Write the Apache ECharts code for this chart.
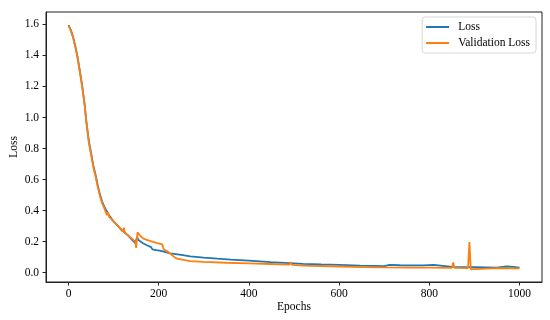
<!DOCTYPE html>
<html>
<head>
<meta charset="utf-8">
<script src="https://cdn.jsdelivr.net/npm/echarts@6/dist/echarts.min.js"></script>
<style>
  html, body { margin: 0; padding: 0; background: #fff; }
  #loss-chart { width: 550px; height: 320px; }
</style>
</head>
<body>
<div id="loss-chart"></div>
<script>
// training loss
var lossEpochs = [0, 5, 10, 15, 20, 25, 30, 35, 40, 45, 50, 55, 60, 65, 70, 75, 80, 90, 100, 110,
  120, 130, 140, 148, 150, 152, 155, 165, 175, 183, 186, 195, 205, 225, 250, 270, 300, 330, 360, 400,
  448, 490, 520, 560, 600, 647, 700, 712, 715, 735, 738, 760, 763, 786, 789, 810, 813, 850, 900, 950,
  971, 974, 987, 990, 1000];
var lossValues = [1.595, 1.565, 1.52, 1.46, 1.39, 1.30, 1.21, 1.10, 0.96, 0.85, 0.77, 0.69, 0.63, 0.56, 0.50, 0.455, 0.42, 0.37, 0.33, 0.30,
  0.27, 0.245, 0.215, 0.19, 0.18, 0.23, 0.21, 0.19, 0.175, 0.165, 0.15, 0.145, 0.14, 0.125, 0.115, 0.105, 0.097, 0.09, 0.084, 0.078,
  0.068, 0.062, 0.057, 0.053, 0.05, 0.046, 0.042, 0.05, 0.042, 0.048, 0.041, 0.047, 0.04, 0.047, 0.039, 0.05, 0.038, 0.037, 0.035, 0.033,
  0.04, 0.033, 0.038, 0.032, 0.032];

// validation loss
var valEpochs = [0, 5, 10, 15, 20, 25, 30, 33, 35, 40, 45, 50, 55, 60, 65, 70, 75, 80, 85, 87,
  90, 95, 100, 110, 120, 123, 125, 130, 141, 148, 150, 153, 160, 167, 182, 195, 208, 211, 218, 226,
  235, 241, 255, 270, 300, 350, 400, 448, 490, 492, 496, 520, 560, 600, 650, 700, 750, 800, 850, 853,
  856, 886, 889, 892, 895, 950, 1000];
var valValues = [1.59, 1.56, 1.515, 1.455, 1.385, 1.295, 1.2, 1.14, 1.1, 0.96, 0.84, 0.76, 0.68, 0.62, 0.55, 0.49, 0.445, 0.41, 0.37, 0.39,
  0.36, 0.345, 0.33, 0.3, 0.265, 0.29, 0.255, 0.245, 0.218, 0.2, 0.16, 0.26, 0.235, 0.218, 0.203, 0.192, 0.182, 0.15, 0.14, 0.122,
  0.1, 0.09, 0.082, 0.075, 0.07, 0.064, 0.06, 0.056, 0.052, 0.068, 0.05, 0.046, 0.043, 0.04, 0.036, 0.034, 0.033, 0.032, 0.031, 0.066,
  0.031, 0.03, 0.197, 0.022, 0.03, 0.029, 0.028];

var xTicks = [0, 200, 400, 600, 800, 1000];
var yTicks = [0, 0.2, 0.4, 0.6, 0.8, 1.0, 1.2, 1.4, 1.6];

function pairs(xs, ys) {
  return xs.map(function (x, i) { return [x, ys[i]]; });
}

var font = "'Liberation Serif', 'DejaVu Serif', serif";

var option = {
  animation: false,
  textStyle: { fontFamily: font },
  grid: {
    left: 46,
    top: 12,
    right: 8,
    bottom: 38,
    containLabel: false,
    outerBoundsMode: "none",
    show: true,
    borderColor: "#222",
    borderWidth: 1
  },
  legend: {
    right: 14,
    top: 17,
    orient: "vertical",
    backgroundColor: "#fff",
    borderColor: "#d6d6d6",
    borderWidth: 1,
    borderRadius: 3,
    padding: [4, 6, 4, 4],
    icon: "rect",
    itemWidth: 23,
    itemHeight: 2,
    itemGap: 4,
    textStyle: { fontFamily: font, fontSize: 11.5, color: "#000", padding: [0, 0, 0, 4], lineHeight: 12 },
    data: ["Loss", "Validation Loss"]
  },
  xAxis: {
    type: "value",
    min: -50,
    max: 1050,
    name: "Epochs",
    nameLocation: "middle",
    nameGap: 19,
    nameMoveOverlap: false,
    nameTextStyle: { fontFamily: font, fontSize: 11.5, color: "#000", verticalAlign: "top" },
    splitLine: { show: false },
    axisLine: { show: true, onZero: false, lineStyle: { color: "#222", width: 1 } },
    axisTick: { show: true, length: 3.5, customValues: xTicks, lineStyle: { color: "#222" } },
    axisLabel: {
      customValues: xTicks,
      margin: 6,
      fontFamily: font,
      fontSize: 11.5,
      color: "#000",
      formatter: function (v) { return String(v); }
    }
  },
  yAxis: {
    type: "value",
    min: -0.06,
    max: 1.68,
    name: "Loss",
    nameLocation: "middle",
    nameGap: 26,
    nameMoveOverlap: false,
    nameTextStyle: { fontFamily: font, fontSize: 11.5, color: "#000", verticalAlign: "bottom" },
    splitLine: { show: false },
    axisLine: { show: true, onZero: false, lineStyle: { color: "#222", width: 1 } },
    axisTick: { show: true, length: 3.5, customValues: yTicks, lineStyle: { color: "#222" } },
    axisLabel: {
      customValues: yTicks,
      margin: 7,
      fontFamily: font,
      fontSize: 11.5,
      color: "#000",
      formatter: function (v) { return v.toFixed(1); }
    }
  },
  series: [
    {
      name: "Loss",
      type: "line",
      data: pairs(lossEpochs, lossValues),
      showSymbol: false,
      symbol: "none",
      lineStyle: { color: "#1f77b4", width: 1.8 },
      itemStyle: { color: "#1f77b4" }
    },
    {
      name: "Validation Loss",
      type: "line",
      data: pairs(valEpochs, valValues),
      showSymbol: false,
      symbol: "none",
      lineStyle: { color: "#ff7f0e", width: 1.8 },
      itemStyle: { color: "#ff7f0e" }
    }
  ]
};

var myChart = echarts.init(document.getElementById("loss-chart"));
myChart.setOption(option);
</script>
</body>
</html>
